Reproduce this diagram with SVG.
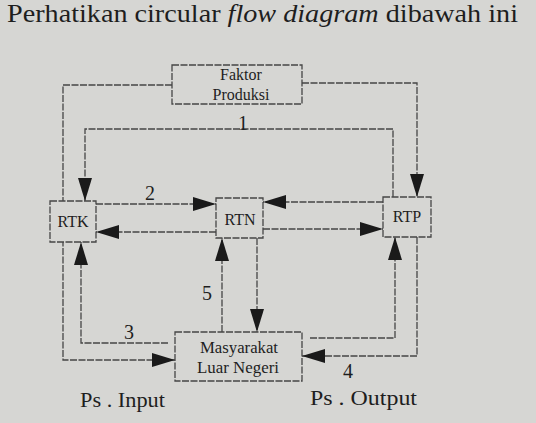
<svg xmlns="http://www.w3.org/2000/svg" width="536" height="423" viewBox="0 0 536 423">
<defs>
<style>
.bg{fill:#d6d6d3}
.box{fill:#d6d6d3;stroke:#454545;stroke-width:1.3;stroke-dasharray:7 1.5}
.ln{fill:none;stroke:#454545;stroke-width:1.3;stroke-dasharray:7 1.5}
.t{font-family:'Liberation Serif',serif;fill:#1e1e1e}
.lbl{font-size:16px;text-anchor:middle}
.num{font-size:20px;text-anchor:middle}
</style>
<marker id="ah" markerUnits="userSpaceOnUse" markerWidth="24" markerHeight="16" refX="23" refY="7" orient="auto">
<path d="M0,0 L23,7 L0,14 z" fill="#1a1a1a"/>
</marker>
</defs>
<rect class="bg" x="0" y="0" width="536" height="423"/>
<text class="t" font-family="Liberation Serif, serif" x="7" y="22" font-size="26" textLength="511" lengthAdjust="spacingAndGlyphs">Perhatikan circular <tspan font-style="italic">flow diagram</tspan> dibawah ini</text>
<g id="connectors">
<path class="ln" d="M172,85 H63 V360 H175" marker-end="url(#ah)"/>
<path class="ln" d="M302,83 H417 V197" marker-end="url(#ah)"/>
<path class="ln" d="M393,197 V129 H85 V201" marker-end="url(#ah)"/>
<path class="ln" d="M96,204 H216" marker-end="url(#ah)"/>
<path class="ln" d="M216,232 H96" marker-end="url(#ah)"/>
<path class="ln" d="M383,202 H263" marker-end="url(#ah)"/>
<path class="ln" d="M263,229 H383" marker-end="url(#ah)"/>
<path class="ln" d="M168,343 H81 V242" marker-end="url(#ah)"/>
<path class="ln" d="M222,332 V238" marker-end="url(#ah)"/>
<path class="ln" d="M257,238 V332" marker-end="url(#ah)"/>
<path class="ln" d="M310,338 H395 V237" marker-end="url(#ah)"/>
<path class="ln" d="M417,237 V356 H302" marker-end="url(#ah)"/>
<text class="t num" font-family="Liberation Serif, serif" x="243" y="130">1</text>
<text class="t num" font-family="Liberation Serif, serif" x="150" y="200">2</text>
<text class="t num" font-family="Liberation Serif, serif" x="129" y="339">3</text>
<text class="t num" font-family="Liberation Serif, serif" x="348" y="378">4</text>
<text class="t num" font-family="Liberation Serif, serif" x="207" y="300">5</text>
</g>
<g id="faktor-produksi">
<rect class="box" x="172" y="65" width="130" height="39"/>
<text class="t lbl" font-family="Liberation Serif, serif" x="241" y="80" font-size="14">Faktor</text>
<text class="t lbl" font-family="Liberation Serif, serif" x="241" y="100" font-size="14">Produksi</text>
</g>
<g id="rtk">
<rect class="box" x="50" y="201" width="46" height="41"/>
<text class="t lbl" font-family="Liberation Serif, serif" x="73" y="227">RTK</text>
</g>
<g id="rtn">
<rect class="box" x="216" y="198" width="47" height="40"/>
<text class="t lbl" font-family="Liberation Serif, serif" x="240" y="225">RTN</text>
</g>
<g id="rtp">
<rect class="box" x="383" y="197" width="48" height="40"/>
<text class="t lbl" font-family="Liberation Serif, serif" x="407" y="222">RTP</text>
</g>
<g id="masyarakat-luar-negeri">
<rect class="box" x="175" y="332" width="127" height="49"/>
<text class="t lbl" font-family="Liberation Serif, serif" x="239" y="353" textLength="78" lengthAdjust="spacingAndGlyphs">Masyarakat</text>
<text class="t lbl" font-family="Liberation Serif, serif" x="238" y="373" textLength="82" lengthAdjust="spacingAndGlyphs">Luar Negeri</text>
</g>
<text class="t" font-family="Liberation Serif, serif" x="80" y="407" font-size="22" textLength="85" lengthAdjust="spacingAndGlyphs">Ps . Input</text>
<text class="t" font-family="Liberation Serif, serif" x="310" y="405" font-size="22" textLength="107" lengthAdjust="spacingAndGlyphs">Ps . Output</text>
</svg>
